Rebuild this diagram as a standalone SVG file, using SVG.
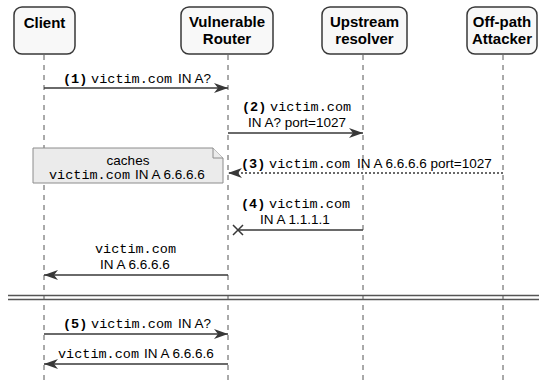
<svg xmlns="http://www.w3.org/2000/svg" width="539" height="381" viewBox="0 0 539 381">
<style>
.box{fill:#f8f8f8;stroke:#383838;stroke-width:1.5}
.title{font-family:"Liberation Sans",Arial,sans-serif;font-weight:bold;font-size:15px;fill:#000;text-anchor:middle}
.life{stroke:#555;stroke-width:1;stroke-dasharray:5,5;fill:none}
.msg{stroke:#383838;stroke-width:1.5;fill:none}
.dot{stroke-dasharray:2,2}
.t{font-family:"Liberation Sans",Arial,sans-serif;font-size:13.5px;fill:#000}
.m{font-family:"Liberation Mono","Courier New",monospace;font-size:13.5px}
.b{font-weight:bold}
.note{fill:#ebebeb;stroke:#8c8c8c;stroke-width:1}
.div{stroke:#555;stroke-width:1.5}
</style>
<defs>
<marker id="ah" viewBox="0 0 14 10" refX="14" refY="5" markerWidth="14" markerHeight="10" markerUnits="userSpaceOnUse" orient="auto">
<path d="M0,0 L14,5 L0,10 L4,5 Z" fill="#383838" stroke="none"/>
</marker>
</defs>
<g id="lifelines">
<line class="life" x1="44" y1="55" x2="44" y2="381"/>
<line class="life" x1="228" y1="55" x2="228" y2="381"/>
<line class="life" x1="363" y1="55" x2="363" y2="381"/>
<line class="life" x1="503" y1="55" x2="503" y2="381"/>
</g>
<g id="client"><rect class="box" x="14" y="7" width="61" height="47" rx="8"/><text class="title" x="44.5" y="28">Client</text></g>
<g id="router"><rect class="box" x="181" y="7" width="92" height="47" rx="8"/><text class="title" x="227" y="27">Vulnerable</text><text class="title" x="227" y="44">Router</text></g>
<g id="upstream"><rect class="box" x="322" y="7" width="85" height="47" rx="8"/><text class="title" x="364.5" y="27">Upstream</text><text class="title" x="364.5" y="44">resolver</text></g>
<g id="attacker"><rect class="box" x="467" y="7" width="70" height="47" rx="8"/><text class="title" x="502" y="27">Off-path</text><text class="title" x="502" y="44">Attacker</text></g>
<g id="note"><path class="note" d="M33,148 H213 L223,158 V183 H33 Z"/><path class="note" d="M213,148 V158 H223" fill="none"/>
<text class="t" x="128" y="165" text-anchor="middle">caches</text>
<text class="t" x="49" y="179"><tspan class="m">victim.com</tspan><tspan x="135">IN A 6.6.6.6</tspan></text></g>
<g id="connectors">
<line class="msg" x1="44" y1="88" x2="228" y2="88" marker-end="url(#ah)"/>
<line class="msg" x1="228" y1="133" x2="363" y2="133" marker-end="url(#ah)"/>
<line class="msg dot" x1="503" y1="173" x2="228" y2="173" marker-end="url(#ah)"/>
<line class="msg" x1="363" y1="230" x2="238" y2="230"/>
<path class="msg" d="M233,225 L243,235 M233,235 L243,225"/>
<line class="msg" x1="228" y1="275" x2="44" y2="275" marker-end="url(#ah)"/>
<line class="div" x1="8" y1="295.5" x2="539" y2="295.5"/>
<line class="div" x1="8" y1="299.5" x2="539" y2="299.5"/>
<line class="msg" x1="44" y1="334" x2="228" y2="334" marker-end="url(#ah)"/>
<line class="msg" x1="228" y1="364" x2="44" y2="364" marker-end="url(#ah)"/>
</g>
<g id="labels">
<text class="t" x="63" y="83"><tspan class="m b">(1)</tspan> <tspan class="m">victim.com</tspan><tspan x="178">IN A?</tspan></text>
<text class="t" x="242" y="111"><tspan class="m b">(2)</tspan> <tspan class="m">victim.com</tspan></text>
<text class="t" x="248" y="127">IN A? port=1027</text>
<text class="t" x="241" y="168"><tspan class="m b">(3)</tspan> <tspan class="m">victim.com</tspan><tspan x="357">IN A 6.6.6.6 port=1027</tspan></text>
<text class="t" x="241" y="208"><tspan class="m b">(4)</tspan> <tspan class="m">victim.com</tspan></text>
<text class="t" x="260" y="224">IN A 1.1.1.1</text>
<text class="t m" x="95" y="253">victim.com</text>
<text class="t" x="100" y="269">IN A 6.6.6.6</text>
<text class="t" x="63" y="328"><tspan class="m b">(5)</tspan> <tspan class="m">victim.com</tspan><tspan x="178">IN A?</tspan></text>
<text class="t" x="58" y="358"><tspan class="m">victim.com</tspan><tspan x="144">IN A 6.6.6.6</tspan></text>
</g>
</svg>
